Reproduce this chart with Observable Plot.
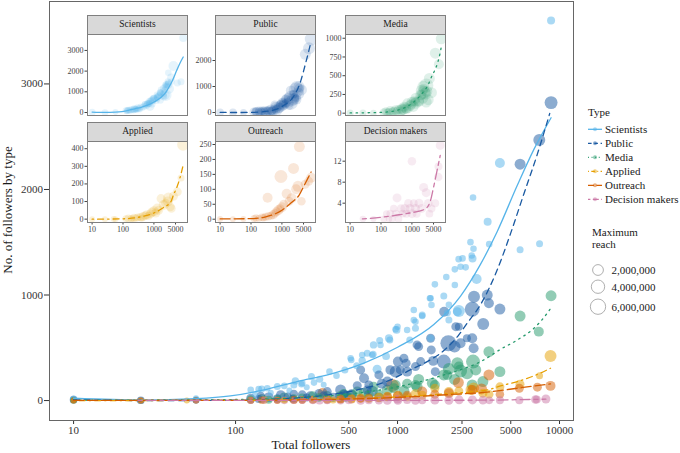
<!DOCTYPE html>
<html><head><meta charset="utf-8">
<script src="https://cdn.jsdelivr.net/npm/d3@7"></script>
<script src="https://cdn.jsdelivr.net/npm/@observablehq/plot@0.6"></script>
<style>
html,body{margin:0;padding:0;background:#fff;}
#wrap{position:relative;width:680px;height:453px;overflow:hidden;font-family:"Liberation Serif","Times New Roman",serif;}
#wrap svg{position:absolute;}
.strip{position:absolute;box-sizing:border-box;background:#d9d9d9;border:1px solid #7f7f7f;font-size:9.5px;line-height:17px;text-align:center;color:#1a1a1a;font-family:"Liberation Serif",serif;}
</style></head><body><div id="wrap"></div><script>
// ---------- data ----------
const types = ["Scientists","Public","Media","Applied","Outreach","Decision makers"];
const colors = ["#56B4E9","#1A5AA2","#259A6C","#E69F00","#D55E00","#CC79A7"];
const dashes = ["none","6 4.5","1.5 4.5","1.5 4 6 4","10 4","4 4 10 4"];
const xTicks = [10,100,500,1000,2500,5000,10000];
const yTicks = [0,1000,2000,3000];
const insetXTicks = [10,100,1000,5000];
const insetYTicks = [[0,1000,2000,3000],[0,1000,2000],[0,250,500,750,1000],[0,100,200,300,400],[0,50,100,150,200,250],[4,8,12]];
const insetYDomains = [[-145,3770],[-115,3000],[-31,1050],[-19,441],[-11,260],[0.32,15.75]];
const sizeLegend = [2000000,4000000,6000000];

// [total followers, followers of this type, maximum reach (millions)]
const scientists = [[10,14,0.3],[26,2,0.2],[57,22,0.1],[124,101,0.2],[132,60,0.1],[139,108,0.2],[145,110,0.3],[157,117,0.2],[165,75,0.1],[181,132,0.3],[200,139,0.2],[215,95,0.1],[229,148,0.3],[234,186,0.4],[255,155,0.2],[258,165,0.2],[275,125,0.1],[294,227,0.3],[305,170,0.2],[331,202,0.3],[350,150,0.1],[380,274,0.2],[420,235,0.2],[473,290,0.3],[513,401,0.2],[518,385,0.2],[560,330,0.3],[605,378,0.4],[605,432,0.2],[650,448,0.3],[698,432,0.2],[707,439,0.3],[711,527,0.4],[748,297,1.0],[776,568,0.3],[785,527,0.2],[850,420,0.5],[885,590,0.6],[896,574,0.3],[973,675,0.2],[986,669,0.5],[1000,700,0.2],[1146,669,0.2],[1190,574,0.3],[1260,763,0.2],[1260,858,0.2],[1290,685,0.3],[1290,747,0.2],[1420,811,0.3],[1420,801,0.2],[1585,969,0.2],[1600,590,0.3],[1600,969,0.2],[1620,905,0.2],[1700,1101,0.2],[1930,990,0.3],[2000,1170,0.2],[2030,832,0.3],[2075,763,0.3],[2075,908,0.2],[2258,1243,0.2],[2258,1094,0.2],[2340,842,1.0],[2384,1340,0.2],[2390,849,2.8],[2450,1268,0.2],[2520,1347,0.2],[2633,1262,0.2],[2820,1501,0.2],[2870,1375,0.2],[2904,1347,0.6],[2925,1924,0.2],[2944,1438,0.2],[3078,1151,1.5],[3600,1693,0.6],[3680,1482,0.2],[4285,2251,1.5],[5710,1428,0.3],[7530,1485,0.3],[8870,3600,0.6]];
const publicUsers = [[10,8,0.5],[26,3,0.5],[57,5,0.3],[124,22,1.0],[139,15,0.6],[143,44,0.8],[160,30,1.5],[181,22,0.6],[190,54,1.2],[210,35,0.8],[225,18,0.5],[229,63,0.8],[258,54,1.0],[275,30,0.6],[290,40,1.5],[327,70,0.8],[350,45,1.0],[368,85,1.0],[400,30,1.2],[445,101,2.0],[466,60,1.0],[480,50,1.0],[520,60,1.5],[564,140,1.0],[592,290,1.0],[621,212,1.5],[650,100,1.0],[665,148,1.0],[700,90,2.0],[767,243,1.0],[800,160,1.5],[865,180,1.5],[900,290,1.2],[973,274,2.8],[1005,369,1.5],[1040,290,1.0],[1095,401,1.0],[1130,354,1.0],[1146,274,1.5],[1290,322,1.0],[1320,527,1.0],[1350,511,1.0],[1390,369,1.0],[1600,590,1.0],[1615,480,1.0],[1660,376,1.5],[1710,274,1.0],[1930,369,4.6],[1940,842,1.5],[2060,543,6.7],[2250,511,2.8],[2290,700,1.0],[2390,700,0.6],[2450,543,1.5],[2680,590,0.6],[2890,865,5.6],[2890,590,1.5],[2950,496,1.5],[2965,984,2.8],[3380,726,2.8],[3580,1000,2.1],[3665,921,1.5],[4285,867,2.1],[5710,2239,2.1],[7500,2469,2.8],[8870,2823,3.6]];
const media = [[10,2,0.3],[26,1,0.3],[57,2,0.2],[124,10,0.8],[145,20,1.0],[160,8,0.6],[181,15,0.6],[200,30,1.5],[229,20,0.8],[258,25,1.0],[300,40,1.5],[327,30,0.8],[368,45,1.2],[445,40,2.0],[466,63,1.5],[480,30,1.0],[520,50,2.1],[564,85,1.5],[621,70,2.1],[665,55,1.5],[711,132,1.5],[767,60,1.0],[865,101,2.1],[950,117,1.5],[973,148,1.5],[1095,90,2.1],[1146,160,1.5],[1290,148,1.5],[1320,132,2.1],[1350,200,2.1],[1640,165,2.1],[1700,148,1.5],[1930,243,2.1],[2030,243,1.5],[2075,300,2.8],[2250,200,2.1],[2340,354,2.8],[2390,322,1.5],[2450,280,3.6],[2690,259,2.8],[2890,148,2.1],[2925,369,4.6],[3040,290,2.1],[3365,180,2.1],[3665,463,2.1],[4285,274,2.1],[5710,801,2.1],[7450,653,1.5],[8870,993,2.1]];
const applied = [[10,0,0.1],[26,0,0.1],[50,1,0.1],[57,0,0.1],[124,3,0.3],[150,5,0.5],[181,4,0.3],[200,2,0.2],[229,8,0.6],[258,6,0.4],[300,10,0.5],[368,12,0.6],[400,5,0.3],[445,15,1.0],[520,20,0.8],[592,25,1.0],[665,18,0.6],[767,30,1.0],[865,40,1.2],[1005,45,1.5],[1146,35,1.0],[1290,60,1.5],[1420,50,1.0],[1700,117,1.0],[2075,80,1.5],[2390,90,1.0],[2820,101,1.5],[2950,120,2.1],[3365,70,1.0],[3680,60,0.8],[4285,130,1.0],[5700,155,1.0],[7530,234,0.3],[8800,423,2.8]];
const outreach = [[10,1,0.1],[26,0,0.1],[57,1,0.1],[124,2,0.3],[145,4,0.4],[181,3,0.3],[229,6,0.5],[258,5,0.4],[300,8,0.6],[344,72,1.5],[368,10,0.8],[445,12,0.6],[520,15,1.0],[592,20,0.8],[665,25,1.0],[767,30,1.5],[865,35,1.0],[930,143,3.6],[1005,40,1.5],[1146,50,1.0],[1420,85,1.5],[1700,60,1.0],[2075,70,1.5],[2375,170,2.1],[2890,100,1.5],[3300,110,2.1],[3665,243,2.1],[4285,60,0.8],[5650,117,1.0],[7300,127,1.0],[8800,139,1.5]];
const decisionMakers = [[26,1,0.2],[57,1,0.1],[124,1,0.3],[150,2,0.3],[181,1,0.2],[200,2,0.5],[229,1,0.3],[258,3,0.4],[300,2,0.5],[330,5,1.0],[368,1,0.5],[445,3,0.8],[500,2,0.5],[592,3,1.0],[665,2,0.6],[767,4,0.8],[865,3,1.0],[1000,12,0.8],[1005,2,1.0],[1146,4,0.5],[1290,3,1.0],[1420,2,0.6],[1700,4,1.0],[2075,3,1.0],[2400,7,1.0],[2900,6,1.0],[3365,4,0.8],[3680,2,0.5],[4285,3,0.6],[5650,4,0.6],[7100,9,0.8],[7240,11,0.6],[8240,15,1.0]];

// fitted curves: [total followers, fitted followers of type]
const scientistsFit = [[10,22],[26,5],[57,18],[93,44],[150,101],[240,180],[385,250],[620,354],[1000,505],[1675,720],[2450,990],[3250,1290],[4120,1600],[5490,2040],[6950,2380],[8870,2680]];
const publicFit = [[10,8],[30,0],[100,3],[200,18],[400,60],[600,110],[905,196],[1200,290],[1525,369],[1841,448],[2390,622],[2690,732],[3300,925],[4120,1236],[4990,1584],[6030,1960],[7280,2330],[8700,2720]];
const mediaFit = [[10,3],[100,10],[300,35],[600,75],[1000,130],[2000,250],[3410,385],[4325,486],[5490,574],[6950,685],[8390,827],[8870,880]];
const appliedFit = [[10,0],[100,2],[300,10],[1000,35],[2000,65],[3580,101],[4325,139],[5490,180],[6950,234],[8800,306]];
const outreachFit = [[10,1],[100,2],[300,8],[1000,30],[2000,55],[3570,80],[5500,117],[8800,158]];
const decisionMakersFit = [[25,1],[100,1.3],[300,1.7],[1000,2.2],[2000,2.6],[3000,3.1],[4000,4.5],[5000,7],[6500,10.2],[8240,13.1]];

// ---------- build tables ----------
const pointSets = [scientists, publicUsers, media, applied, outreach, decisionMakers];
const fitSets = [scientistsFit, publicFit, mediaFit, appliedFit, outreachFit, decisionMakersFit];
const points = pointSets.flatMap((arr, i) => arr.map(([followers, count, reach]) => ({type: types[i], followers, count, reach})));
const fits = fitSets.map((arr, i) => arr.map(([followers, count]) => ({type: types[i], followers, count})));

const serif = '"Liberation Serif","Times New Roman",serif';
const xDomain = [7.1, 12200];
const rScale = {type: "pow", exponent: 0.5, domain: [0, 8], range: [2.3, 8.5]};
const colorScale = {domain: types, range: colors};
const fmt = d => String(d);
const blank = () => "";

const wrap = document.getElementById("wrap");

// ---------- main chart ----------
const main = Plot.plot({
  width: 680, height: 453,
  marginLeft: 49, marginRight: 107, marginTop: 1, marginBottom: 33,
  style: {fontFamily: serif, fontSize: "11px", color: "#333", background: "white"},
  x: {type: "log", domain: xDomain},
  y: {domain: [-189, 3781]},
  r: rScale,
  color: colorScale,
  marks: [
    Plot.axisX({ticks: xTicks, tickFormat: blank, tickSize: 4, label: null}),
    Plot.text(xTicks, {x: d => d, text: fmt, frameAnchor: "bottom", lineAnchor: "top", dy: 6, fontSize: 11, fill: "#333"}),
    Plot.axisY({ticks: yTicks, tickFormat: fmt, tickSize: 5, tickPadding: 1.5, label: null}),
    Plot.dot(points, {x: "followers", y: "count", r: "reach", fill: "type", fillOpacity: 0.5, clip: true}),
    ...fits.map((f, i) => Plot.line(f, {x: "followers", y: "count", stroke: colors[i], strokeWidth: 1.3, strokeDasharray: dashes[i], curve: "monotone-x", clip: true})),
    Plot.frame({stroke: "#666", strokeWidth: 1})
  ]
});
main.style.left = "0px"; main.style.top = "0px";
wrap.appendChild(main);

// ---------- insets ----------
const colLeft = [87, 215, 345];
const rowTop = [34, 141];
types.forEach((t, i) => {
  const col = i % 3, row = Math.floor(i / 3);
  const mL = 30, mT = 4, mB = row ? 16 : 5, pw = 100, ph = 81;
  const sub = points.filter(d => d.type === t);
  const p = Plot.plot({
    width: mL + pw + 1, height: mT + ph + mB,
    marginLeft: mL, marginRight: 1, marginTop: mT, marginBottom: mB,
    style: {fontFamily: serif, fontSize: "8px", color: "#444", background: "transparent"},
    x: {type: "log", domain: xDomain, axis: null},
    y: {domain: insetYDomains[i], axis: null},
    r: rScale,
    marks: [
      Plot.frame({fill: "white"}),
      Plot.dot(sub, {x: "followers", y: "count", r: "reach", fill: colors[i], fillOpacity: 0.15, clip: true}),
      Plot.line(fits[i], {x: "followers", y: "count", stroke: colors[i], strokeWidth: 1.3, strokeDasharray: dashes[i], curve: "monotone-x", clip: true}),
      Plot.axisY({ticks: insetYTicks[i], tickFormat: fmt, tickSize: 2.5, tickPadding: 1.5, label: null}),
      row ? Plot.axisX({ticks: insetXTicks, tickFormat: blank, tickSize: 2.5, label: null}) : null,
      row ? Plot.text(insetXTicks, {x: d => d, text: fmt, frameAnchor: "bottom", lineAnchor: "top", dy: 4, fontSize: 8, fill: "#444"}) : null,
      Plot.frame({stroke: "#7f7f7f"})
    ]
  });
  p.style.left = (colLeft[col] - mL) + "px";
  p.style.top = (rowTop[row] - mT) + "px";
  wrap.appendChild(p);
  const s = document.createElement("div");
  s.className = "strip";
  s.textContent = t;
  s.style.left = colLeft[col] + "px";
  s.style.top = (rowTop[row] - 19) + "px";
  s.style.width = "101px";
  s.style.height = "20px";
  wrap.appendChild(s);
});

// ---------- overlay: axis titles and legends ----------
const svg = d3.select(wrap).append("svg")
  .attr("width", 680).attr("height", 453)
  .style("left", "0px").style("top", "0px")
  .style("pointer-events", "none")
  .attr("font-family", serif).attr("fill", "#1a1a1a");

svg.append("text").attr("x", 311).attr("y", 449).attr("text-anchor", "middle").attr("font-size", 13).text("Total followers");
svg.append("text").attr("transform", "translate(12,210) rotate(-90)").attr("text-anchor", "middle").attr("font-size", 13).text("No. of followers by type");

svg.append("text").attr("x", 588).attr("y", 115.5).attr("font-size", 11).text("Type");
const keys = svg.selectAll("g.key").data(types).join("g").attr("class", "key")
  .attr("transform", (d, i) => `translate(588,${129.3 + i * 14})`);
keys.append("line").attr("x1", 0).attr("x2", 14).attr("y1", 0).attr("y2", 0)
  .attr("stroke", (d, i) => colors[i]).attr("stroke-width", 1.3)
  .attr("stroke-dasharray", (d, i) => dashes[i] === "none" ? null : dashes[i].split(" ").map(v => v * 0.6).join(" "));
keys.append("circle").attr("cx", 7).attr("cy", 0).attr("r", 2).attr("fill", (d, i) => colors[i]).attr("fill-opacity", 0.5);
keys.append("text").attr("x", 17).attr("y", 3.8).attr("font-size", 11).text(d => d);

svg.append("text").attr("x", 592).attr("y", 235.5).attr("font-size", 11).text("Maximum");
svg.append("text").attr("x", 592).attr("y", 248).attr("font-size", 11).text("reach");
const rFn = d3.scalePow().exponent(rScale.exponent).domain(rScale.domain).range(rScale.range);
const sizeY = [270, 286.7, 306.7];
const sk = svg.selectAll("g.size").data(sizeLegend).join("g").attr("class", "size")
  .attr("transform", (d, i) => `translate(598,${sizeY[i]})`);
sk.append("circle").attr("r", d => rFn(d / 1e6)).attr("fill", "white").attr("stroke", "#9a9a9a").attr("stroke-width", 0.8);
sk.append("text").attr("x", 13.5).attr("y", 3.8).attr("font-size", 11).text(d => d3.format(",")(d));
</script></body></html>
